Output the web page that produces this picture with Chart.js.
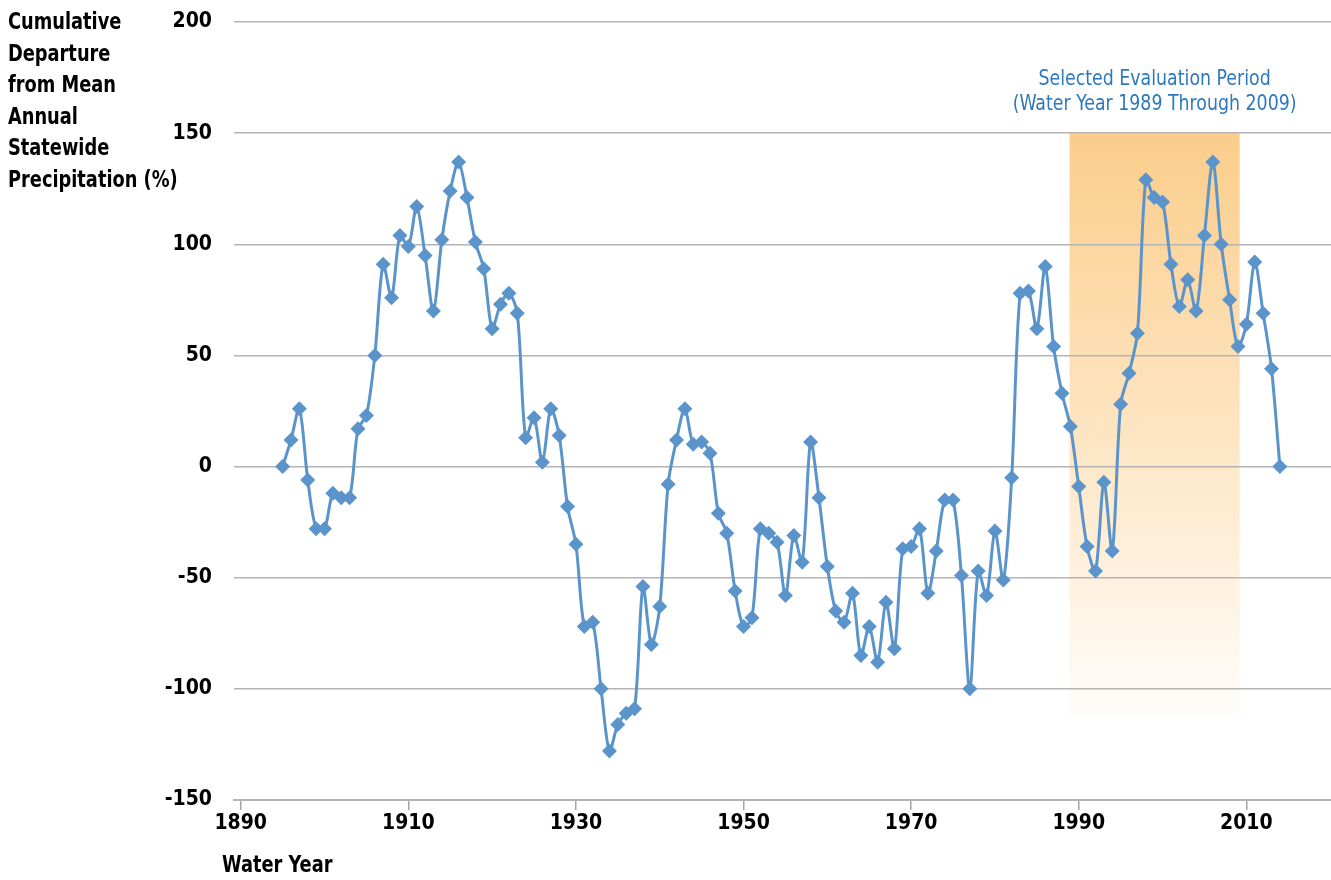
<!DOCTYPE html>
<html>
<head>
<meta charset="utf-8">
<script src="https://cdn.jsdelivr.net/npm/chart.js@4.4.1/dist/chart.umd.min.js"></script>
<style>
  body { margin: 0; background: #fff; }
  #wrap { width: 1331px; height: 880px; }
</style>
</head>
<body>
<div id="wrap"><canvas id="grafik-presip" width="1331" height="880"></canvas></div>
<script>
// data
const years = [];
for (let y = 1895; y <= 2014; y++) years.push(y);
const departure = [
	0, 12, 26, -6, -28, -28, -12, -14, -14, 17,
	23, 50, 91, 76, 104, 99, 117, 95, 70, 102,
	124, 137, 121, 101, 89, 62, 73, 78, 69, 13,
	22, 2, 26, 14, -18, -35, -72, -70, -100, -128,
	-116, -111, -109, -54, -80, -63, -8, 12, 26, 10,
	11, 6, -21, -30, -56, -72, -68, -28, -30, -34,
	-58, -31, -43, 11, -14, -45, -65, -70, -57, -85,
	-72, -88, -61, -82, -37, -36, -28, -57, -38, -15,
	-15, -49, -100, -47, -58, -29, -51, -5, 78, 79,
	62, 90, 54, 33, 18, -9, -36, -47, -7, -38,
	28, 42, 60, 129, 121, 119, 91, 72, 84, 70,
	104, 137, 100, 75, 54, 64, 92, 69, 44, 0
];
const xTicks = [1890, 1910, 1930, 1950, 1970, 1990, 2010];
const yTicks = [-150, -100, -50, 0, 50, 100, 150, 200];
const periodYears = [1988.9, 2009.2];
const periodRange = [150, -112];
const periodLabel = ['Selected Evaluation Period', '(Water Year 1989 Through 2009)'];
const yTitle = ['Cumulative', 'Departure', 'from Mean', 'Annual', 'Statewide', 'Precipitation (%)'];
const xTitle = 'Water Year';

const FONT = "'Liberation Sans Narrow', 'DejaVu Sans Condensed', 'Open Sans', sans-serif";

const points = years.map((y, i) => ({x: y, y: departure[i]}));

// narrow text, the reference uses a condensed face
function squeezeText(ctx, txt, x, y, k) {
	ctx.save();
	ctx.translate(x, y);
	ctx.scale(k, 1);
	ctx.fillText(txt, 0, 0);
	ctx.restore();
}

const periodBox = {
	id: 'periodBox',
	beforeDraw(chart) {
		const ctx = chart.ctx, xs = chart.scales.x, ys = chart.scales.y;
		const x0 = xs.getPixelForValue(periodYears[0]);
		const x1 = xs.getPixelForValue(periodYears[1]);
		const y0 = ys.getPixelForValue(periodRange[0]);
		const y1 = ys.getPixelForValue(periodRange[1]);
		const g = ctx.createLinearGradient(0, y0, 0, y1);
		g.addColorStop(0, '#fbcd8b');
		g.addColorStop(0.45, '#fde2bb');
		g.addColorStop(1, 'rgba(255,253,250,1)');
		ctx.save();
		ctx.fillStyle = g;
		ctx.fillRect(x0, y0, x1 - x0, y1 - y0);
		ctx.restore();
	},
	afterDraw(chart) {
		const ctx = chart.ctx, xs = chart.scales.x;
		ctx.save();
		ctx.fillStyle = '#2e78bd';
		ctx.font = "21px " + FONT;
		ctx.textAlign = 'center';
		ctx.textBaseline = 'middle';
		const cx = (xs.getPixelForValue(periodYears[0]) + xs.getPixelForValue(periodYears[1])) / 2;
		squeezeText(ctx, periodLabel[0], cx, 80, 0.92);
		squeezeText(ctx, periodLabel[1], cx, 105, 0.92);

		ctx.fillStyle = '#000';
		ctx.font = "bold 23px " + FONT;
		ctx.textAlign = 'left';
		yTitle.forEach((t, i) => squeezeText(ctx, t, 8, 23 + i * 31.6, 0.86));
		squeezeText(ctx, xTitle, 222, 866, 0.86);
		ctx.restore();
	}
};

new Chart(document.getElementById('grafik-presip'), {
	type: 'line',
	data: {
		datasets: [{
			data: points,
			borderColor: '#5b94cb',
			backgroundColor: '#5b94cb',
			borderWidth: 3,
			tension: 0.3,
			pointStyle: 'rectRot',
			pointRadius: 7.5,
			pointHoverRadius: 7.5,
			pointBorderWidth: 0
		}]
	},
	options: {
		responsive: false,
		animation: false,
		devicePixelRatio: 1,
		layout: { autoPadding: false, padding: { top: 22, left: 0, right: 0, bottom: 0 } },
		plugins: { legend: { display: false }, tooltip: { enabled: false } },
		scales: {
			x: {
				type: 'linear',
				min: 1889.2,
				max: 2020.1,
				afterBuildTicks: (s) => { s.ticks = xTicks.map(v => ({value: v})); },
				afterFit: (s) => { s.height = 80; s.paddingLeft = 0; s.paddingRight = 0; },
				grid: { drawOnChartArea: false, drawTicks: true, tickLength: 10, color: '#a6a6a6', lineWidth: 1.5 },
				border: { color: '#b4b4b4', width: 2 },
				ticks: { color: '#000', padding: 1, callback: (v) => String(v), font: { family: FONT, size: 21, weight: 'bold' } }
			},
			y: {
				min: -150,
				max: 200,
				afterBuildTicks: (s) => { s.ticks = yTicks.map(v => ({value: v})); },
				afterFit: (s) => { s.width = 234; s.paddingTop = 0; s.paddingBottom = 0; },
				grid: { color: '#b4b4b4', lineWidth: 1.5, drawTicks: false },
				border: { display: false },
				ticks: { color: '#000', padding: 22, font: { family: FONT, size: 21, weight: 'bold' } }
			}
		}
	},
	plugins: [periodBox]
});
</script>
</body>
</html>
